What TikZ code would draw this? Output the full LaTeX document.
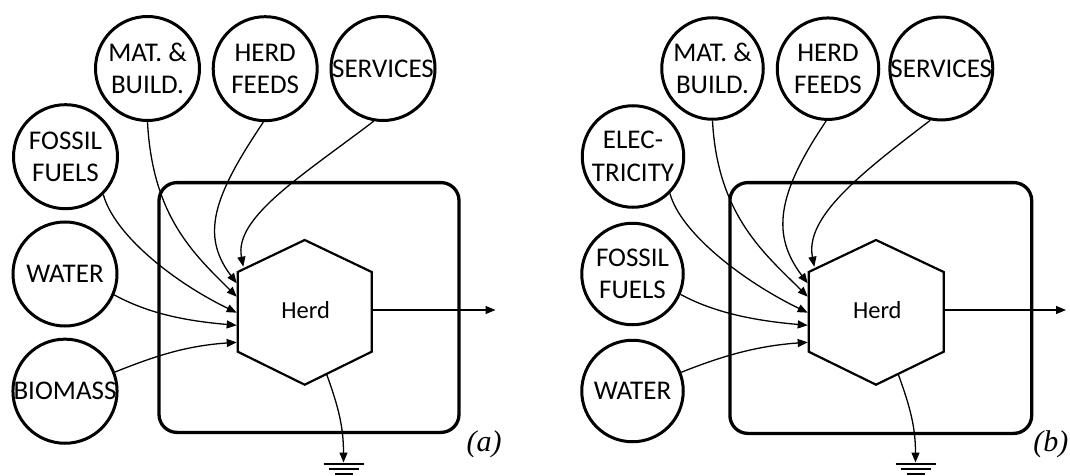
\documentclass[tikz,border=0pt]{standalone}
\usepackage{fontspec}
\setmainfont{Carlito}
\newfontfamily\tagfont{Liberation Serif}
\usetikzlibrary{arrows.meta}

\begin{document}
\begin{tikzpicture}[x=1pt,y=1pt,
  pool/.style={circle, draw, line width=3pt, inner sep=0pt, minimum size=104pt,
    align=center, font=\fontsize{27}{32.5}\selectfont},
  poolb/.style={pool, minimum size=101.5pt},
  frame/.style={draw, line width=3.3pt, rounded corners=18pt},
  hexline/.style={draw, line width=2.2pt, line join=miter},
  flow/.style={line width=1.3pt, -{Triangle[length=10pt,width=8pt]}},
  earth/.style={line width=1.4pt},
  tag/.style={font=\tagfont\itshape\fontsize{30}{36}\selectfont, anchor=base, inner sep=0pt},
  herd/.style={font=\fontsize{24.5}{29}\selectfont, inner sep=0pt}]

\fill[white] (0,0) rectangle (1070,475);
\useasboundingbox (0,0) rectangle (1070,475);

% ---------------- panel (a) ----------------
\draw[frame] (159,42.6) rectangle (459,292.4);
\draw[hexline] (304.7,235) -- (371.7,203) -- (371.7,123.3) -- (304.7,90.3)
  -- (237.7,123.3) -- (237.7,203) -- cycle;
\node[herd] (aHerd) at (305.7,165) {Herd};

\coordinate (aIn1) at (236.7,191.7);
\coordinate (aIn2) at (236.7,178.3);
\coordinate (aIn3) at (236.7,162.3);
\coordinate (aIn4) at (236.7,149.7);
\coordinate (aIn5) at (236.7,132.7);
\coordinate (aTop) at (243.3,208.3);
\coordinate (aRight) at (372.7,165);
\coordinate (aOut) at (495.5,165);
\coordinate (aLow) at (326.7,100.5);
\coordinate (aGnd) at (343.5,12.5);

\node[pool] (aMat)    at (147.5,406.5) {MAT. \&\\BUILD.};
\node[pool] (aFeed)   at (265.2,406.3) {HERD\\FEEDS};
\node[pool] (aServ)   at (383,406.5)   {SERVICES};
\node[pool] (aFossil) at (65.5,318.3)  {FOSSIL\\FUELS};
\node[pool] (aWater)  at (65,201)      {WATER};
\node[pool] (aBio)    at (65,83.8)     {BIOMASS};

\draw[flow] (aMat.-90) .. controls +(-87:95) and +(135:60) .. (aIn2);
\draw[flow] (aFeed.-92) .. controls +(-124:90) and +(127:60) .. (aIn1);
\draw[flow] (aServ.-100) .. controls +(-142.7:90) and +(101:50) .. (aTop);
\draw[flow] (aFossil.-45) .. controls +(-75:40) and +(154:74) .. (aIn3);
\draw[flow] (aWater.-23) .. controls +(-28.6:40) and +(175:50) .. (aIn4);
\draw[flow] (aBio.21) .. controls +(21.8:45) and +(184:50) .. (aIn5);
\draw[flow] (aRight) -- (aOut);
\draw[flow] (aLow) .. controls +(-70:35) and +(90:35) .. (aGnd);

\draw[earth] ([shift={(-20,-1.5)}]aGnd) -- ([shift={(20,-1.5)}]aGnd);
\draw[earth] ([shift={(-15,-6.5)}]aGnd) -- ([shift={(15,-6.5)}]aGnd);
\draw[earth] ([shift={(-9,-11.5)}]aGnd) -- ([shift={(9,-11.5)}]aGnd);

\node[tag] (aTag) at (484.2,23.3) {(a)};

% ---------------- panel (b) ----------------
\draw[frame] (729.9,41.6) rectangle (1031.7,292.4);
\draw[hexline] (876,235) -- (943.7,203) -- (943.7,123.3) -- (876,90.3)
  -- (808.7,123.3) -- (808.7,203) -- cycle;
\node[herd] (bHerd) at (877.3,165) {Herd};

\coordinate (bIn1) at (807.7,191.7);
\coordinate (bIn2) at (807.7,178.3);
\coordinate (bIn3) at (807.7,162.3);
\coordinate (bIn4) at (807.7,149.7);
\coordinate (bIn5) at (807.7,132.7);
\coordinate (bTop) at (814.3,208.3);
\coordinate (bRight) at (944.7,165);
\coordinate (bOut) at (1066,165);
\coordinate (bLow) at (898.3,100.6);
\coordinate (bGnd) at (915.5,12.5);

\node[poolb] (bMat)    at (712.5,406.5) {MAT. \&\\BUILD.};
\node[poolb] (bFeed)   at (828,406.3)   {HERD\\FEEDS};
\node[poolb] (bServ)   at (941.3,406.5) {SERVICES};
\node[poolb] (bElec)   at (633,318.5)   {ELEC-\\TRICITY};
\node[poolb] (bFossil) at (632.5,201)   {FOSSIL\\FUELS};
\node[poolb] (bWater)  at (632.5,84)    {WATER};

\draw[flow] (bMat.-90) .. controls +(-87:95) and +(135:60) .. (bIn2);
\draw[flow] (bFeed.-92) .. controls +(-124:90) and +(127:60) .. (bIn1);
\draw[flow] (bServ.-102) .. controls +(-142.7:90) and +(101:50) .. (bTop);
\draw[flow] (bElec.-45) .. controls +(-75:40) and +(154:74) .. (bIn3);
\draw[flow] (bFossil.-23) .. controls +(-28.6:40) and +(175:50) .. (bIn4);
\draw[flow] (bWater.21) .. controls +(21.8:45) and +(184:50) .. (bIn5);
\draw[flow] (bRight) -- (bOut);
\draw[flow] (bLow) .. controls +(-70:35) and +(90:35) .. (bGnd);

\draw[earth] ([shift={(-20,-1.5)}]bGnd) -- ([shift={(20,-1.5)}]bGnd);
\draw[earth] ([shift={(-15,-6.5)}]bGnd) -- ([shift={(15,-6.5)}]bGnd);
\draw[earth] ([shift={(-9,-11.5)}]bGnd) -- ([shift={(9,-11.5)}]bGnd);

\node[tag] (bTag) at (1050.8,23.3) {(b)};
\end{tikzpicture}
\end{document}
